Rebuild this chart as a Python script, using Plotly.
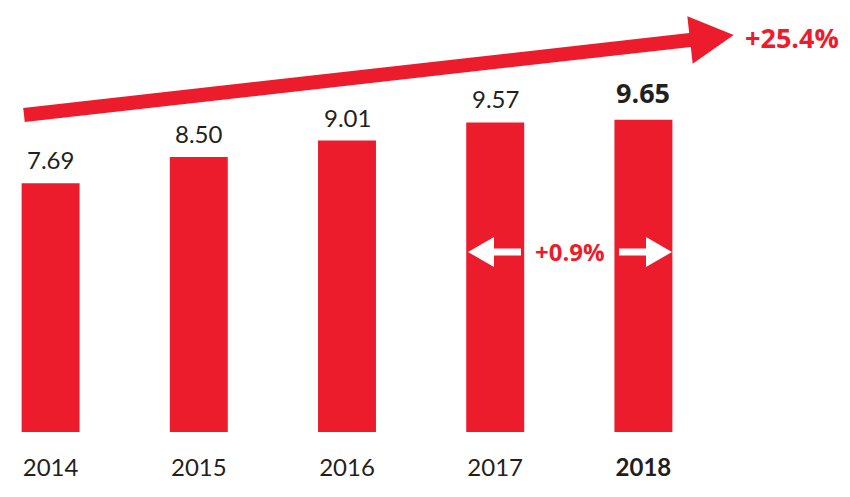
import numpy as np
import plotly.graph_objects as go

# ---- data ----
years = ["2014", "2015", "2016", "2017", "2018"]
values = [7.69, 8.50, 9.01, 9.57, 9.65]
value_labels = ["7.69", "8.50", "9.01", "9.57", "9.65"]
tick_labels = ["2014", "2015", "2016", "2017", "<b>2018</b>"]
total_change = "+25.4%"
last_change = "+0.9%"

RED = "#EC1C2D"
DARK = "#231F20"

W, H = 850, 497
PLOT_BOTTOM = 432  # pixel row of the x axis


def px(x):
    return x / W


def py(y):
    return (PLOT_BOTTOM - y) / PLOT_BOTTOM


def path(points):
    return "M " + " L ".join(f"{px(x):.5f},{py(y):.5f}" for x, y in points) + " Z"


fig = go.Figure()
fig.add_trace(go.Bar(
    x=years, y=values, width=0.391,
    marker=dict(color=RED, line=dict(width=0)),
    hoverinfo="skip",
))

# value labels
for i, (v, lab) in enumerate(zip(values, value_labels)):
    last = i == len(values) - 1
    fig.add_annotation(
        x=i, y=v, xref="x", yref="y",
        text=f"<b>{lab}</b>" if last else lab, showarrow=False,
        xanchor="center", yanchor="bottom", yshift=7,
        font=dict(family="Open Sans" if last else "Lato", size=27 if last else 24, color=DARK),
    )

# big trend arrow
start = np.array([24.0, 115.0])
base = np.array([690.0, 115.0 - 0.1126 * 666])
d = base - start
u = d / np.linalg.norm(d)
n = np.array([-u[1], u[0]])
half = 7.0
head_half = 24.0
tip = base + 44 * u
pts = [start - n * half, base - n * half, base - n * head_half, tip,
       base + n * head_half, base + n * half, start + n * half]
fig.add_shape(type="path", path=path([tuple(p) for p in pts]), xref="paper", yref="paper",
              fillcolor=RED, line=dict(width=0), layer="above")

fig.add_annotation(x=px(792), y=py(38), xref="paper", yref="paper", text=f"<b>{total_change}</b>",
                   xanchor="center", yanchor="middle",
                   showarrow=False, font=dict(family="Open Sans", size=27, color=RED))

# double white arrows between 2017 and 2018
cy = 252
sh, hh = 3.5, 15
left = [(468, cy), (494, cy - hh), (494, cy - sh), (521, cy - sh), (521, cy + sh), (494, cy + sh), (494, cy + hh)]
right = [(672, cy), (646, cy - hh), (646, cy - sh), (619, cy - sh), (619, cy + sh), (646, cy + sh), (646, cy + hh)]
for poly in (left, right):
    fig.add_shape(type="path", path=path(poly), xref="paper", yref="paper",
                  fillcolor="white", line=dict(width=0), layer="above")

fig.add_annotation(x=px(569.5), y=py(252), xref="paper", yref="paper", text=f"<b>{last_change}</b>",
                   xanchor="center", yanchor="middle",
                   showarrow=False, font=dict(family="Open Sans", size=24, color=RED))

fig.update_layout(
    width=W, height=H,
    margin=dict(l=0, r=0, t=0, b=H - PLOT_BOTTOM),
    plot_bgcolor="white", paper_bgcolor="white",
    showlegend=False,
    xaxis=dict(type="category", range=[-0.3414, 5.394], showgrid=False, zeroline=False,
               showline=False, ticks="", tickvals=years, ticktext=tick_labels,
               tickfont=dict(family="Lato", size=24, color=DARK), ticklabelstandoff=19),
    yaxis=dict(range=[0, PLOT_BOTTOM / 32.35], visible=False, showgrid=False, zeroline=False),
)

fig.write_html("out.html", config={"displayModeBar": False},
               post_script="document.body.style.margin='0';")
